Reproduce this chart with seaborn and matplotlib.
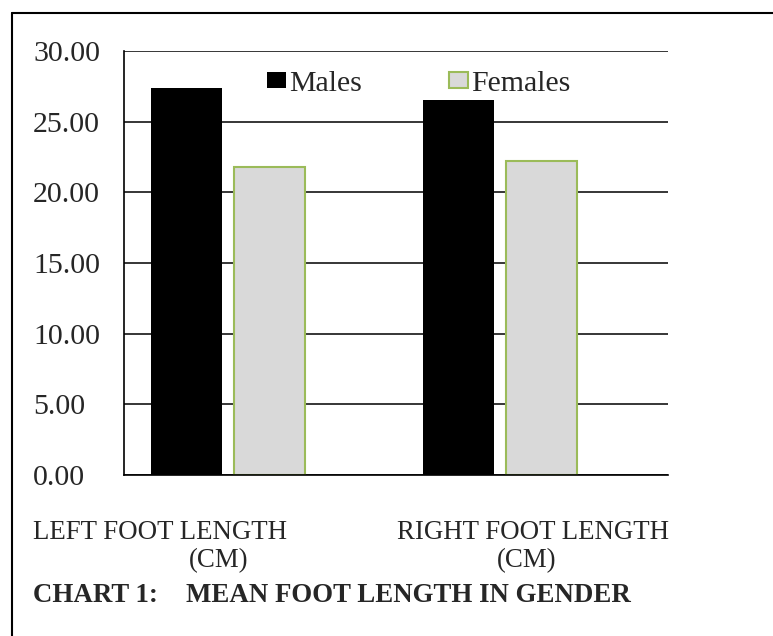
import numpy as np
import pandas as pd
import seaborn as sns
import matplotlib.pyplot as plt
from matplotlib.lines import Line2D

# data
measures = ['LEFT FOOT LENGTH (CM)', 'RIGHT FOOT LENGTH (CM)']
label_line1 = ['LEFT FOOT LENGTH', 'RIGHT FOOT LENGTH']
label_line2 = ['(CM)', '(CM)']
genders = ['Males', 'Females']
males = [27.4, 26.5]
females = [21.8, 22.2]
yticks = [0, 5, 10, 15, 20, 25, 30]
ytick_labels = ['0.00', '5.00', '10.00', '15.00', '20.00', '25.00', '30.00']

df = pd.DataFrame({
    'measure': measures * 2,
    'gender': ['Males'] * len(males) + ['Females'] * len(females),
    'value': males + females,
})

sns.set_style('white')
plt.rcParams['font.family'] = ['Liberation Serif', 'DejaVu Serif']

W, H = 773, 636
fig = plt.figure(figsize=(W / 100, H / 100), dpi=100)
ax = fig.add_axes([124 / W, 1 - 475 / H, (668 - 124) / W, (475 - 51) / H])

sns.barplot(data=df, x='measure', y='value', hue='gender', order=measures,
            hue_order=genders, palette=['black', '#D9D9D9'], width=0.61,
            gap=0.148, linewidth=0, legend=False, ax=ax)
for bar in ax.containers[1]:
    bar.set_edgecolor('#9BBB59')
    bar.set_linewidth(1.5)

ax.set_xlim(-0.382, 1.618)
ax.set_ylim(0, 30)
ax.set_yticks(yticks)
ax.set_yticklabels(ytick_labels, fontsize=21.5, ha='left')
ax.tick_params(axis='y', length=0, pad=65.5)
ax.set_xticklabels([])
ax.tick_params(axis='x', length=0)
ax.set_xlabel(None)
ax.set_ylabel(None)
ax.grid(axis='y', color='black', lw=1.1)
ax.set_axisbelow(True)
sns.despine(ax=ax, top=True, right=True)
for s in ['left', 'bottom']:
    ax.spines[s].set_color('black')
    ax.spines[s].set_linewidth(1.2)

ax.legend(handles=list(ax.containers), labels=genders, ncol=2, frameon=False,
          fontsize=21.5, loc='center left', borderpad=0, borderaxespad=0,
          bbox_to_anchor=(267 / W, 1 - 84 / H), bbox_transform=fig.transFigure,
          handlelength=0.65, handleheight=0.45, handletextpad=0.1,
          columnspacing=2.9)

# category labels under the axis
line1_x = [33, 397]
line2_x = [189, 497]
for i in range(len(measures)):
    fig.text(line1_x[i] / W, 1 - 539 / H, label_line1[i], fontsize=19.4,
             ha='left', va='baseline')
    fig.text(line2_x[i] / W, 1 - 567 / H, label_line2[i], fontsize=19.4,
             ha='left', va='baseline')

fig.text(33 / W, 1 - 602 / H, 'CHART 1:', fontsize=19.4, fontweight='bold',
         ha='left', va='baseline')
fig.text(186 / W, 1 - 602 / H, 'MEAN FOOT LENGTH IN GENDER', fontsize=19.4,
         fontweight='bold', ha='left', va='baseline')

# outer frame (top and left edges visible)
fig.add_artist(Line2D([12 / W, 1], [1 - 13 / H] * 2, transform=fig.transFigure,
                      color='black', lw=1.5))
fig.add_artist(Line2D([12 / W] * 2, [0, 1 - 13 / H], transform=fig.transFigure,
                      color='black', lw=1.5))

fig.savefig('out.png', dpi=100)
